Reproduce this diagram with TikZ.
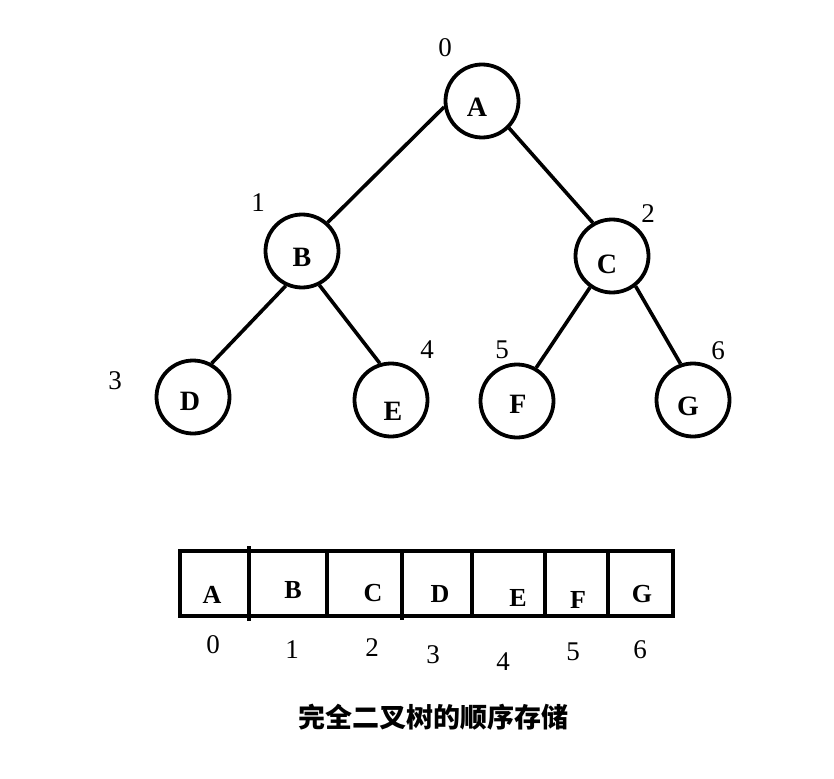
\documentclass[tikz,border=0pt]{standalone}
\usepackage{fontspec}
\setmainfont{Liberation Serif}
\newfontfamily\cjk{Noto Sans CJK SC}
\begin{document}
\begin{tikzpicture}[x=1pt,y=-1pt,
  vertex/.style={circle,draw=black,line width=3.8pt,minimum size=73pt,inner sep=0pt},
  vlabel/.style={inner sep=0pt,font=\bfseries\fontsize{28}{30}\selectfont},
  idx/.style={inner sep=0pt,font=\fontsize{27}{29}\selectfont},
  cell/.style={inner sep=0pt,font=\bfseries\fontsize{26}{28}\selectfont},
  edge/.style={line width=3.6pt}]
\fill[white] (0,0) rectangle (834,778);
\useasboundingbox (0,0) rectangle (834,778);
% tree nodes
\node[vertex] (A) at (482,101) {};
\node[vertex] (B) at (302,251) {};
\node[vertex] (C) at (612,256) {};
\node[vertex] (D) at (193,397) {};
\node[vertex] (E) at (391,400) {};
\node[vertex] (F) at (517,401) {};
\node[vertex] (G) at (693,400) {};
% letters in circles
\node[vlabel] (tA) at (477,107) {A};
\node[vlabel] (tB) at (302,257) {B};
\node[vlabel] (tC) at (607,264) {C};
\node[vlabel] (tD) at (190,401) {D};
\node[vlabel] (tE) at (393,411) {E};
\node[vlabel] (tF) at (518,404) {F};
\node[vlabel] (tG) at (688,406) {G};
% indices
\node[idx] (i0) at (445,48) {0};
\node[idx] (i1) at (258,203) {1};
\node[idx] (i2) at (648,214) {2};
\node[idx] (i3) at (115,381) {3};
\node[idx] (i4) at (427,350) {4};
\node[idx] (i5) at (502,350) {5};
\node[idx] (i6) at (718,351) {6};
% edges
\draw[edge] (A.189) -- (B.48);
\draw[edge] (A.315) -- (C.120);
\draw[edge] (B.245) -- (D.61);
\draw[edge] (B.297) -- (E.107);
\draw[edge] (C.235) -- (F.60);
\draw[edge] (C.308) -- (G.109);
% array
\coordinate (r1) at (180,551);
\coordinate (r2) at (673,616);
\draw[line width=4pt] (r1) rectangle (r2);
\coordinate (d1t) at (249,546); \coordinate (d1b) at (249,621);
\draw[line width=4pt] (d1t) -- (d1b);
\coordinate (d2t) at (327,551); \coordinate (d2b) at (327,616);
\draw[line width=4pt] (d2t) -- (d2b);
\coordinate (d3t) at (402,551); \coordinate (d3b) at (402,620);
\draw[line width=4pt] (d3t) -- (d3b);
\coordinate (d4t) at (472,551); \coordinate (d4b) at (472,616);
\draw[line width=4pt] (d4t) -- (d4b);
\coordinate (d5t) at (545,551); \coordinate (d5b) at (545,616);
\draw[line width=4pt] (d5t) -- (d5b);
\coordinate (d6t) at (608,551); \coordinate (d6b) at (608,616);
\draw[line width=4pt] (d6t) -- (d6b);
% cell contents
\node[cell] (cA) at (212,595) {A};
\node[cell] (cB) at (293,590) {B};
\node[cell] (cC) at (373,593) {C};
\node[cell] (cD) at (440,594) {D};
\node[cell] (cE) at (518,598) {E};
\node[cell] (cF) at (578,600) {F};
\node[cell] (cG) at (642,594) {G};
% cell indices
\node[idx] (n0) at (213,645) {0};
\node[idx] (n1) at (292,650) {1};
\node[idx] (n2) at (372,648) {2};
\node[idx] (n3) at (433,655) {3};
\node[idx] (n4) at (503,662) {4};
\node[idx] (n5) at (573,652) {5};
\node[idx] (n6) at (640,650) {6};
% caption
\node[inner sep=0pt,font=\cjk\bfseries\fontsize{27}{30}\selectfont] (cap) at (433,717) {完全二叉树的顺序存储};
\end{tikzpicture}
\end{document}
